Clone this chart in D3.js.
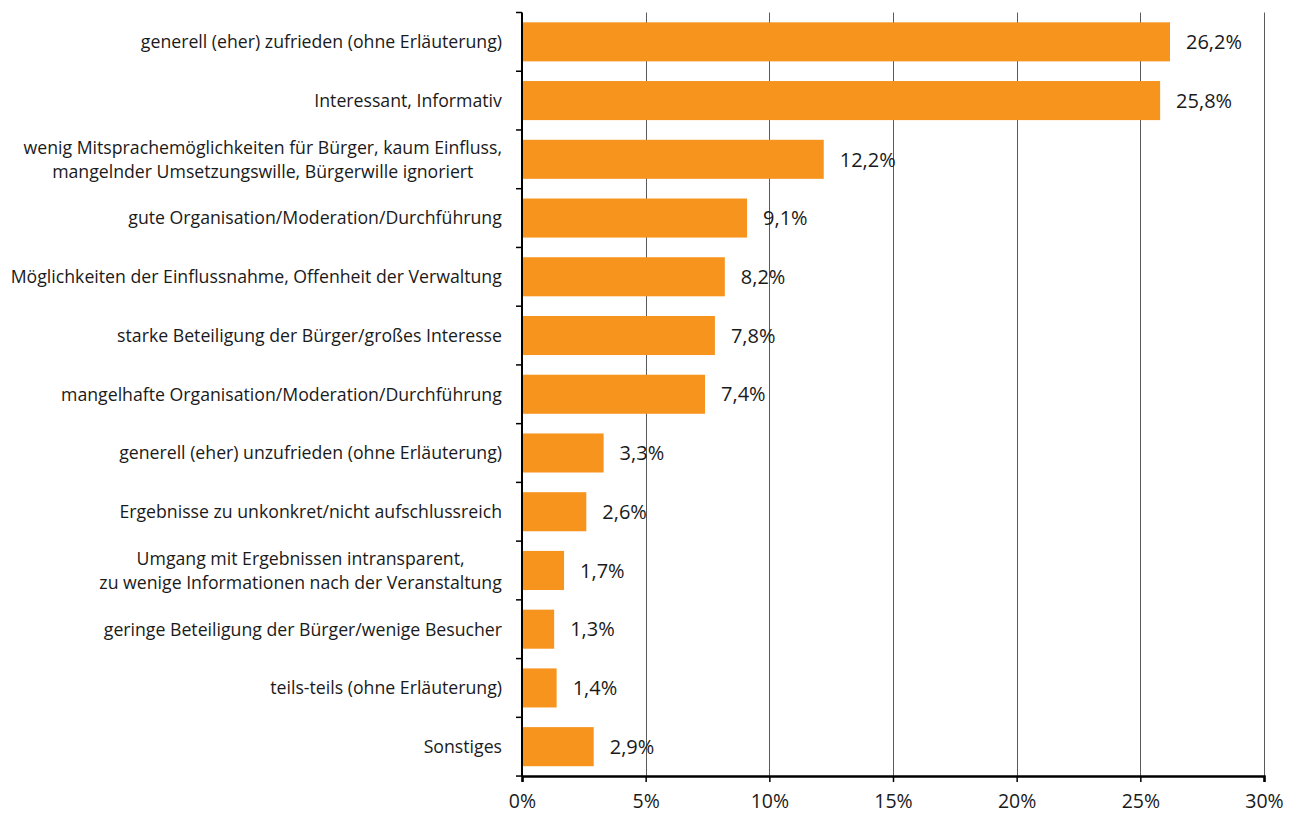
<!DOCTYPE html>
<html>
<head>
<meta charset="utf-8">
<script src="https://cdn.jsdelivr.net/npm/d3@7"></script>
<style>
  body { margin: 0; background: #fff; }
  text { font-family: "Open Sans", sans-serif; fill: #1a1a1a; }
</style>
</head>
<body>
<svg width="1299" height="813"></svg>
<script>
var categories = [
    ["generell (eher) zufrieden (ohne Erläuterung)"],
    ["Interessant, Informativ"],
    ["wenig Mitsprachemöglichkeiten für Bürger, kaum Einfluss,", "mangelnder Umsetzungswille, Bürgerwille ignoriert"],
    ["gute Organisation/Moderation/Durchführung"],
    ["Möglichkeiten der Einflussnahme, Offenheit der Verwaltung"],
    ["starke Beteiligung der Bürger/großes Interesse"],
    ["mangelhafte Organisation/Moderation/Durchführung"],
    ["generell (eher) unzufrieden (ohne Erläuterung)"],
    ["Ergebnisse zu unkonkret/nicht aufschlussreich"],
    ["Umgang mit Ergebnissen intransparent,", "zu wenige Informationen nach der Veranstaltung"],
    ["geringe Beteiligung der Bürger/wenige Besucher"],
    ["teils-teils (ohne Erläuterung)"],
    ["Sonstiges"]
];
var values = [26.2, 25.8, 12.2, 9.1, 8.2, 7.8, 7.4, 3.3, 2.6, 1.7, 1.3, 1.4, 2.9];
var ticks = [0, 5, 10, 15, 20, 25, 30];

var svg = d3.select("svg"),
    plotLeft = 522, plotRight = 1264, plotTop = 12.5, plotBottom = 776;

var x = d3.scaleLinear().domain([0, 30]).range([plotLeft, plotRight]);
var y = d3.scaleBand().domain(d3.range(values.length)).range([plotTop, plotBottom]).paddingInner(0.335).paddingOuter(0.167);

var fmt = function(v) { return d3.format(".1f")(v).replace(".", ",") + "%"; };

// grid lines
svg.append("g").selectAll("line")
    .data(ticks.slice(1))
    .join("line")
    .attr("x1", d => Math.round(x(d)) + 0.5)
    .attr("x2", d => Math.round(x(d)) + 0.5)
    .attr("y1", plotTop)
    .attr("y2", plotBottom)
    .attr("stroke", "#5a5a5a")
    .attr("stroke-width", 1);

// bars
svg.append("g").selectAll("rect")
    .data(values)
    .join("rect")
    .attr("x", x(0))
    .attr("y", (d, i) => y(i))
    .attr("width", d => x(d) - x(0))
    .attr("height", y.bandwidth())
    .attr("fill", "#f7941d");

// value labels
svg.append("g").selectAll("text")
    .data(values)
    .join("text")
    .attr("x", d => x(d) + 16)
    .attr("y", (d, i) => y(i) + y.bandwidth() / 2)
    .attr("dy", "0.36em")
    .attr("font-size", 20)
    .text(fmt);

// category labels, centred block, right edge at 502
var cat = svg.append("g").selectAll("text")
    .data(categories)
    .join("text")
    .attr("text-anchor", "middle")
    .attr("font-size", 17.7);

cat.each(function(lines, i) {
    var t = d3.select(this);
    var n = lines.length;
    lines.forEach(function(l, k) {
        t.append("tspan")
            .attr("x", 0)
            .attr("y", (k - (n - 1) / 2) * 24)
            .attr("dy", "0.36em")
            .text(l);
    });
    var bb = this.getBBox();
    t.attr("transform", "translate(" + (502 - bb.width / 2) + "," + (y(i) + y.bandwidth() / 2) + ")");
});

// y axis with ticks at band boundaries
var yAxisG = svg.append("g");
yAxisG.append("line")
    .attr("x1", plotLeft).attr("x2", plotLeft)
    .attr("y1", plotTop).attr("y2", plotBottom)
    .attr("stroke", "#000").attr("stroke-width", 2);
yAxisG.selectAll("line.tk")
    .data(d3.range(values.length + 1))
    .join("line")
    .attr("class", "tk")
    .attr("x1", plotLeft - 6).attr("x2", plotLeft)
    .attr("y1", i => plotTop + y.step() * i)
    .attr("y2", i => plotTop + y.step() * i)
    .attr("stroke", "#000").attr("stroke-width", 1.5);

// x axis
var xAxis = d3.axisBottom(x).tickValues(ticks).tickSize(6).tickPadding(12).tickFormat(d => d + "%");
var xg = svg.append("g").attr("transform", "translate(0," + plotBottom + ")").call(xAxis);
xg.select(".domain").attr("stroke", "#000").attr("stroke-width", 2.5);
xg.selectAll(".tick line").attr("stroke", "#000").attr("stroke-width", 1.5);
xg.selectAll(".tick text").attr("font-size", 19.5).attr("font-family", "Open Sans, sans-serif").attr("fill", "#1a1a1a");
</script>
</body>
</html>
